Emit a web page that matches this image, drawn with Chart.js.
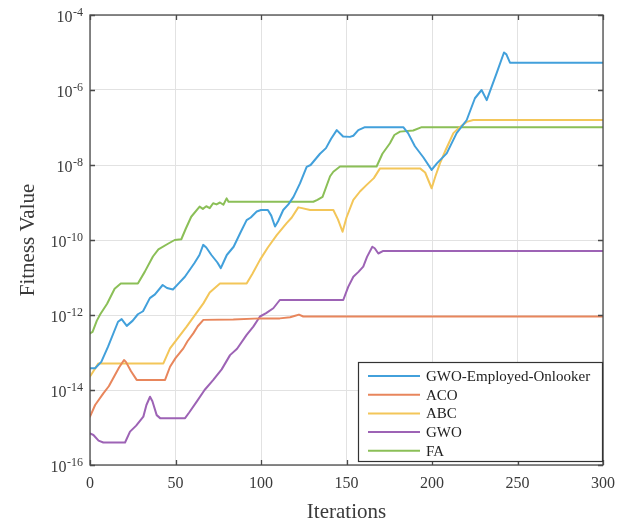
<!DOCTYPE html>
<html>
<head>
<meta charset="utf-8">
<script src="https://cdn.jsdelivr.net/npm/chart.js@4/dist/chart.umd.min.js"></script>
<style>
  html, body { margin: 0; padding: 0; background: #ffffff; }
  #wrap { width: 629px; height: 528px; position: relative; }
</style>
</head>
<body>
<div id="wrap"><canvas id="c" width="629" height="528"></canvas></div>
<script>
// ---------- data (iterations, log10 of fitness value) ----------
const seriesNames = ['GWO-Employed-Onlooker', 'ACO', 'ABC', 'GWO', 'FA'];

const gweoIter = [0,3,6.6,10.5,16.4,18.5,21.5,25,28,31,35,38,42.5,45,48.5,52,55.5,61,64,66.2,68,71,74.5,76.5,78,80,84,88,91.6,94,97.5,100,104,106,108.2,110,113,116,119,122.8,126.7,129,134.5,138,141,144.3,148,152,154,156.9,160.8,183.2,186,190,195,199.8,203,208.6,214.4,220.3,225.1,229,232,237.8,242.1,243.5,245.6,300];
const gweoLog  = [-13.42,-13.42,-13.25,-12.85,-12.18,-12.11,-12.29,-12.15,-11.98,-11.9,-11.55,-11.45,-11.2,-11.28,-11.32,-11.15,-10.98,-10.62,-10.4,-10.13,-10.2,-10.4,-10.6,-10.75,-10.6,-10.4,-10.18,-9.8,-9.47,-9.4,-9.24,-9.2,-9.2,-9.35,-9.64,-9.5,-9.2,-9.05,-8.85,-8.49,-8.05,-8.0,-7.7,-7.55,-7.3,-7.07,-7.24,-7.25,-7.22,-7.07,-6.99,-6.99,-7.15,-7.5,-7.8,-8.13,-7.95,-7.69,-7.15,-6.8,-6.22,-6.0,-6.27,-5.55,-5.0,-5.05,-5.27,-5.27];

const acoIter = [0,3,7.8,11,14.6,17,19.9,21,24,27.3,43.9,46.8,50,54.6,57,60.4,63,66.3,83.8,99.4,111,117,120,122.2,124.7,300];
const acoLog  = [-14.71,-14.4,-14.09,-13.9,-13.6,-13.4,-13.2,-13.25,-13.5,-13.73,-13.73,-13.38,-13.15,-12.89,-12.7,-12.49,-12.3,-12.13,-12.12,-12.09,-12.09,-12.06,-12.02,-11.99,-12.04,-12.04];

const abcIter = [0,4.9,42.9,46.8,56.5,66.3,70,76,91.6,95,99.4,104,109.2,115,118,121.8,124,128.7,142.3,145,147.7,150,154,158,161.8,166,169.6,193,196,199.8,202,204.7,208,212.5,216,220.3,224.1,300];
const abcLog  = [-13.64,-13.29,-13.29,-12.89,-12.31,-11.69,-11.4,-11.16,-11.16,-10.9,-10.53,-10.2,-9.87,-9.55,-9.4,-9.13,-9.15,-9.2,-9.2,-9.45,-9.78,-9.4,-8.93,-8.7,-8.53,-8.35,-8.09,-8.09,-8.2,-8.62,-8.3,-7.95,-7.6,-7.15,-7.0,-6.85,-6.8,-6.8];

const gwoIter = [0,2,5,7.8,20.5,23.4,27,31.2,33,35.1,36.5,39,41,55.6,58,62.4,67,72.1,77,81.9,86,91.6,95.5,99.4,103,107.2,111,148.1,151,154,157,159.8,162,165.1,166.5,168.6,171.5,300];
const gwoLog  = [-15.16,-15.2,-15.35,-15.4,-15.4,-15.11,-14.95,-14.71,-14.4,-14.18,-14.3,-14.67,-14.75,-14.75,-14.6,-14.31,-14.0,-13.73,-13.45,-13.07,-12.9,-12.53,-12.31,-12.04,-11.95,-11.82,-11.6,-11.6,-11.25,-10.98,-10.85,-10.71,-10.45,-10.18,-10.22,-10.36,-10.29,-10.29];

const faIter = [0,1.5,4,6,10,14.4,18,28,32,36.8,40,45.6,49.5,53.4,56,59.2,64.1,66,68,70,72,74,76,78,79.9,81,130.6,133,136,140.4,142.3,146.2,167.6,171,175.4,178,181.3,189,194,300];
const faLog  = [-12.49,-12.45,-12.15,-11.98,-11.7,-11.3,-11.16,-11.16,-10.85,-10.44,-10.25,-10.1,-10.0,-9.98,-9.7,-9.38,-9.11,-9.17,-9.1,-9.15,-9.02,-9.05,-9.0,-9.06,-8.89,-8.98,-8.98,-8.93,-8.85,-8.3,-8.18,-8.04,-8.04,-7.7,-7.42,-7.2,-7.11,-7.08,-6.99,-6.99];

const xTicks = [0, 50, 100, 150, 200, 250, 300];
const yTickExponents = [-16, -14, -12, -10, -8, -6, -4];

// ---------- styling ----------
const colors = ['#42a0db', '#e8865c', '#f3c659', '#9d63b5', '#8bbf57'];
const serif = "'Liberation Serif', 'Times New Roman', serif";
const textColor = '#3a3a3a';

function toPoints(xs, ls) { return xs.map((x, i) => ({ x: x, y: Math.pow(10, ls[i]) })); }
const allIter = [gweoIter, acoIter, abcIter, gwoIter, faIter];
const allLog = [gweoLog, acoLog, abcLog, gwoLog, faLog];

const datasets = seriesNames.map((name, i) => ({
  label: name,
  data: toPoints(allIter[i], allLog[i]),
  borderColor: colors[i],
  backgroundColor: colors[i],
  borderWidth: 2,
  pointRadius: 0,
  tension: 0,
  borderJoinStyle: 'round',
  borderCapStyle: 'round',
  fill: false
}));

// y tick labels as 10 with a raised exponent
const powerLabelPlugin = {
  id: 'powerLabels',
  afterDraw(chart) {
    const { ctx, scales } = chart;
    const right = 83;
    ctx.save();
    ctx.fillStyle = textColor;
    ctx.textBaseline = 'alphabetic';
    yTickExponents.forEach(e => {
      const py = scales.y.getPixelForValue(Math.pow(10, e));
      const expText = String(e);
      ctx.font = '12px ' + serif;
      ctx.textAlign = 'right';
      const ew = ctx.measureText(expText).width;
      ctx.fillText(expText, right, py + 1);
      ctx.font = '16px ' + serif;
      ctx.fillText('10', right - ew - 0.5, py + 7);
    });
    ctx.restore();
  }
};

// frame with inward ticks (MATLAB style)
const framePlugin = {
  id: 'frame',
  afterDatasetsDraw(chart) {
    const { ctx, chartArea: a, scales } = chart;
    ctx.save();
    ctx.strokeStyle = '#4a4a4a';
    ctx.lineWidth = 1.3;
    ctx.strokeRect(a.left, a.top, a.right - a.left, a.bottom - a.top);
    const L = 5;
    ctx.beginPath();
    xTicks.forEach(v => {
      const px = Math.round(scales.x.getPixelForValue(v)) + 0.5;
      ctx.moveTo(px, a.bottom); ctx.lineTo(px, a.bottom - L);
      ctx.moveTo(px, a.top); ctx.lineTo(px, a.top + L);
    });
    yTickExponents.forEach(e => {
      const py = Math.round(scales.y.getPixelForValue(Math.pow(10, e))) + 0.5;
      ctx.moveTo(a.left, py); ctx.lineTo(a.left + L, py);
      ctx.moveTo(a.right, py); ctx.lineTo(a.right - L, py);
    });
    ctx.stroke();
    ctx.restore();
  }
};

// legend box inside the lower-right corner of the plot
const legendPlugin = {
  id: 'boxLegend',
  afterDraw(chart) {
    const { ctx, chartArea: a } = chart;
    const w = 245, h = 100;
    const x0 = a.right - w, y0 = a.bottom - 3 - h;
    ctx.save();
    ctx.fillStyle = '#ffffff';
    ctx.fillRect(x0, y0, w, h);
    ctx.strokeStyle = '#333333';
    ctx.lineWidth = 1.2;
    ctx.strokeRect(x0 + 0.5, y0 + 0.5, w - 1, h - 1);
    ctx.font = '15px ' + serif;
    ctx.textBaseline = 'middle';
    ctx.textAlign = 'left';
    chart.data.datasets.forEach((ds, i) => {
      const y = y0 + 14 + i * 18.7;
      ctx.strokeStyle = ds.borderColor;
      ctx.lineWidth = 2;
      ctx.beginPath();
      ctx.moveTo(x0 + 10, y); ctx.lineTo(x0 + 62, y);
      ctx.stroke();
      ctx.fillStyle = '#222222';
      ctx.fillText(ds.label, x0 + 68, y + 1);
    });
    ctx.restore();
  }
};

new Chart(document.getElementById('c'), {
  type: 'line',
  data: { datasets: datasets },
  plugins: [framePlugin, legendPlugin, powerLabelPlugin],
  options: {
    responsive: false,
    animation: false,
    layout: { padding: { left: 0, right: 26, top: 15, bottom: 0 } },
    plugins: { legend: { display: false }, tooltip: { enabled: false } },
    scales: {
      x: {
        type: 'linear',
        min: 0, max: 300,
        afterFit(s) { s.height = 63; },
        afterBuildTicks(s) { s.ticks = xTicks.map(v => ({ value: v })); },
        grid: { color: '#e2e2e2', lineWidth: 1, drawTicks: false },
        border: { display: false },
        ticks: { padding: 9, color: textColor, font: { family: serif, size: 16 }, maxRotation: 0, autoSkip: false },
        title: { display: true, text: 'Iterations', color: textColor, font: { family: serif, size: 21 }, padding: { top: 0, bottom: 3 } }
      },
      y: {
        type: 'logarithmic',
        min: 1e-16, max: 1e-4,
        afterFit(s) { s.width = 90; },
        afterBuildTicks(s) { s.ticks = yTickExponents.map(e => ({ value: Math.pow(10, e) })); },
        grid: { color: '#e2e2e2', lineWidth: 1, drawTicks: false },
        border: { display: false },
        ticks: { display: false },
        title: { display: true, text: 'Fitness Value', color: textColor, font: { family: serif, size: 21 }, padding: { top: 16, bottom: 0 } }
      }
    }
  }
});
</script>
</body>
</html>
